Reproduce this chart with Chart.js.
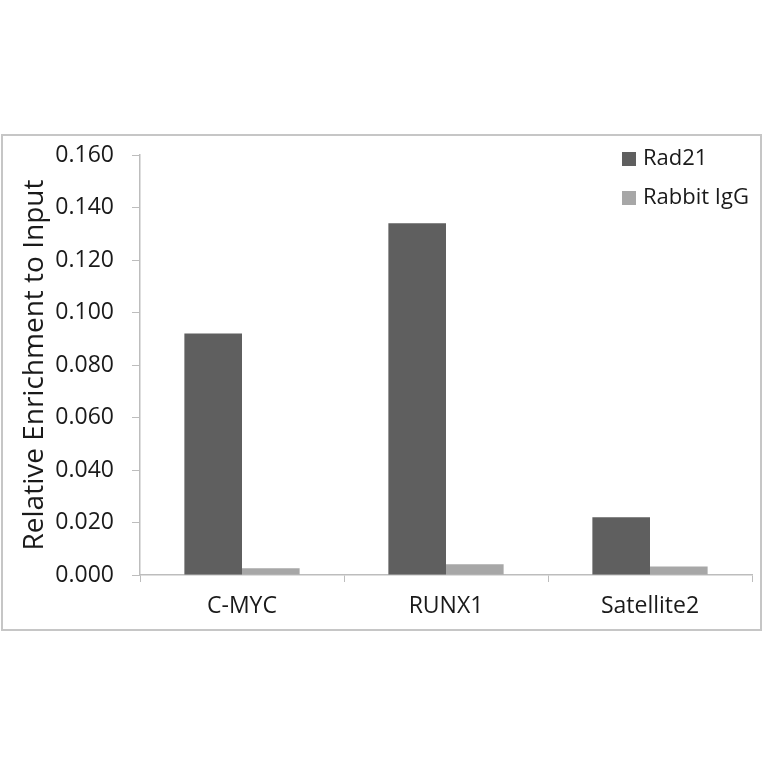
<!DOCTYPE html>
<html>
<head>
<meta charset="utf-8">
<script src="https://cdn.jsdelivr.net/npm/chart.js@4/dist/chart.umd.min.js"></script>
<style>
  html, body { margin: 0; padding: 0; background: #fff; }
  #wrap { position: absolute; left: 0; top: 0; width: 764px; height: 764px; }
</style>
</head>
<body>
<div id="wrap"><canvas id="myChart" width="764" height="764"></canvas></div>
<script>
// chart data
var categories = ['C-MYC', 'RUNX1', 'Satellite2'];
var rad21 = [0.092, 0.134, 0.022];
var rabbitIgG = [0.0026, 0.0041, 0.0032];
var yTicks = [0, 0.02, 0.04, 0.06, 0.08, 0.1, 0.12, 0.14, 0.16];

var textColor = '#1a1a1a';
var axisColor = '#bdbdbd';
var fontFamily = '"Open Sans", "Noto Sans", sans-serif';

// frame round the chart, like the exported picture
var framePlugin = {
    id: 'frame',
    beforeDraw: function (chart) {
        var ctx = chart.ctx;
        ctx.save();
        ctx.strokeStyle = '#c6c6c6';
        ctx.lineWidth = 2;
        ctx.strokeRect(2, 135, 759, 495);
        ctx.restore();
    }
};

// vertical legend in the top right corner
var legendPlugin = {
    id: 'sideLegend',
    afterDraw: function (chart) {
        var ctx = chart.ctx;
        ctx.save();
        ctx.font = '22px ' + fontFamily;
        ctx.textBaseline = 'middle';
        ctx.textAlign = 'left';
        chart.data.datasets.forEach(function (ds, i) {
            var y = 159 + i * 39;
            var x = 622;
            ctx.fillStyle = ds.backgroundColor;
            ctx.fillRect(x, y - 7, 14, 14);
            ctx.fillStyle = textColor;
            ctx.fillText(ds.label, x + 21, y);
        });
        ctx.restore();
    }
};

const config = {
    type: 'bar',
    data: {
        labels: categories,
        datasets: [{
            label: 'Rad21',
            data: rad21,
            backgroundColor: '#5f5f5f'
        }, {
            label: 'Rabbit IgG',
            data: rabbitIgG,
            backgroundColor: '#a7a7a7'
        }]
    },
    options: {
        responsive: false,
        animation: false,
        layout: {
            padding: { left: 0, right: 12, top: 155, bottom: 129 }
        },
        datasets: {
            bar: { categoryPercentage: 0.565, barPercentage: 1.0 }
        },
        plugins: {
            legend: { display: false },
            tooltip: { enabled: false }
        },
        scales: {
            x: {
                afterFit: function (scale) { scale.height = 60; },
                grid: {
                    offset: true,
                    drawOnChartArea: false,
                    drawTicks: true,
                    tickLength: 7,
                    color: axisColor
                },
                border: { color: axisColor, width: 1.5 },
                ticks: {
                    color: textColor,
                    padding: 11,
                    font: { family: fontFamily, size: 23 }
                }
            },
            y: {
                min: 0,
                max: 0.16,
                afterFit: function (scale) { scale.width = 140; },
                afterBuildTicks: function (scale) {
                    scale.ticks = yTicks.map(function (v) { return { value: v }; });
                },
                grid: {
                    drawOnChartArea: false,
                    drawTicks: true,
                    tickLength: 8,
                    color: axisColor
                },
                border: { color: axisColor, width: 1.5 },
                ticks: {
                    color: textColor,
                    padding: 18,
                    font: { family: fontFamily, size: 23 },
                    callback: function (v) { return Number(v).toFixed(3); }
                },
                title: {
                    display: true,
                    text: 'Relative Enrichment to Input',
                    color: textColor,
                    font: { family: fontFamily, size: 28 },
                    padding: { top: 18, bottom: 0 }
                }
            }
        }
    },
    plugins: [framePlugin, legendPlugin]
};

const myChart = new Chart(document.getElementById('myChart'), config);
</script>
</body>
</html>
